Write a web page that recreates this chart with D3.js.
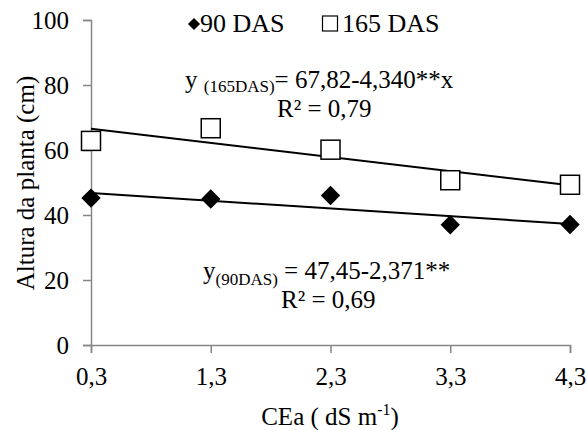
<!DOCTYPE html>
<html>
<head>
<meta charset="utf-8">
<script src="https://cdn.jsdelivr.net/npm/d3@7"></script>
<style>
  body { margin: 0; background: #fff; }
  svg text { font-family: 'Liberation Serif', 'Times New Roman', Times, Tinos, 'DejaVu Serif', serif !important; fill: #000; }
</style>
</head>
<body>
<svg id="chart" width="587" height="430"></svg>
<script>
const cea = [0.3, 1.3, 2.3, 3.3, 4.3]
const das90 = [45.2, 44.9, 46.0, 37.0, 37.1]
const das165 = [62.8, 66.7, 60.1, 50.7, 49.3]
const yTicks = [0, 20, 40, 60, 80, 100]
const fit90 = [47.45, -2.371]
const fit165 = [67.82, -4.340]

const svg = d3.select('#chart')
const x = d3.scaleLinear().domain([0.3, 4.3]).range([91, 570])
const y = d3.scaleLinear().domain([0, 100]).range([345, 20])
const axisColor = '#868686'
const fmt = d => d3.format('.1f')(d).replace('.', ',')

// y axis
const gy = svg.append('g')
  .attr('transform', `translate(${x(0.3)},0)`)
  .call(d3.axisLeft(y).tickValues(yTicks).tickSize(8).tickPadding(14).tickFormat(d3.format('d')))
gy.attr('font-family', null)
gy.select('.domain').attr('stroke', axisColor).attr('stroke-width', 1.5)
gy.selectAll('.tick line').attr('stroke', axisColor).attr('stroke-width', 1.5)
gy.selectAll('.tick text').attr('font-size', 25).attr('fill', '#000')

// x axis
const gx = svg.append('g')
  .attr('transform', `translate(0,${y(0)})`)
  .call(d3.axisBottom(x).tickValues(cea).tickSize(8).tickPadding(14).tickFormat(fmt))
gx.attr('font-family', null)
gx.select('.domain').attr('stroke', axisColor).attr('stroke-width', 1.5)
gx.selectAll('.tick line').attr('stroke', axisColor).attr('stroke-width', 1.5)
gx.selectAll('.tick text').attr('font-size', 25).attr('fill', '#000')

// trend lines
const trend = (f) => [[0.3, f[0] + f[1] * 0.3], [4.3, f[0] + f[1] * 4.3]]
const line = d3.line().x(d => x(d[0])).y(d => y(d[1]))
svg.append('path').attr('d', line(trend(fit165))).attr('stroke', '#000').attr('stroke-width', 2).attr('fill', 'none')
svg.append('path').attr('d', line(trend(fit90))).attr('stroke', '#000').attr('stroke-width', 2).attr('fill', 'none')

// markers
const diamond = d3.symbol().type(d3.symbolDiamond2).size(240)
svg.append('g').selectAll('path')
  .data(cea.map((c, i) => [c, das90[i]]))
  .join('path')
  .attr('d', diamond)
  .attr('transform', d => `translate(${x(d[0])},${y(d[1])})`)
  .attr('fill', '#000')

svg.append('g').selectAll('rect')
  .data(cea.map((c, i) => [c, das165[i]]))
  .join('rect')
  .attr('x', d => x(d[0]) - 9.5).attr('y', d => y(d[1]) - 9.5)
  .attr('width', 19).attr('height', 19)
  .attr('fill', '#fff').attr('stroke', '#000').attr('stroke-width', 1.5)

// legend
svg.append('path').attr('d', d3.symbol().type(d3.symbolDiamond2).size(95)())
  .attr('transform', 'translate(194,24)').attr('fill', '#000')
svg.append('text').attr('x', 200).attr('y', 32).attr('font-size', 26).text('90 DAS')
svg.append('rect').attr('x', 322.5).attr('y', 16).attr('width', 15).attr('height', 15)
  .attr('fill', '#fff').attr('stroke', '#000').attr('stroke-width', 1.2)
svg.append('text').attr('x', 342).attr('y', 32).attr('font-size', 26).text('165 DAS')

// equations
const eq165 = svg.append('text').attr('x', 185).attr('y', 88).attr('font-size', 25)
eq165.append('tspan').text('y ')
eq165.append('tspan').attr('font-size', 17).attr('dy', 4).text('(165DAS)')
eq165.append('tspan').attr('dy', -4).text('= 67,82-4,340**x')
svg.append('text').attr('x', 277).attr('y', 117).attr('font-size', 25).text('R² = 0,79')

const eq90 = svg.append('text').attr('x', 203).attr('y', 279).attr('font-size', 25)
eq90.append('tspan').text('y')
eq90.append('tspan').attr('font-size', 17).attr('dy', 6).text('(90DAS)')
eq90.append('tspan').attr('dy', -6).text(' = 47,45-2,371**')
svg.append('text').attr('x', 281).attr('y', 308).attr('font-size', 25).text('R² = 0,69')

// axis titles
const xt = svg.append('text').attr('x', 330).attr('y', 425).attr('font-size', 25).attr('text-anchor', 'middle')
xt.append('tspan').text('CEa ( dS m')
xt.append('tspan').attr('font-size', 16).attr('dy', -10).text('-1')
xt.append('tspan').attr('dy', 10).text(')')

svg.append('text')
  .attr('transform', 'translate(34,183) rotate(-90)')
  .attr('text-anchor', 'middle').attr('font-size', 25)
  .text('Altura da planta (cm)')
</script>
</body>
</html>
